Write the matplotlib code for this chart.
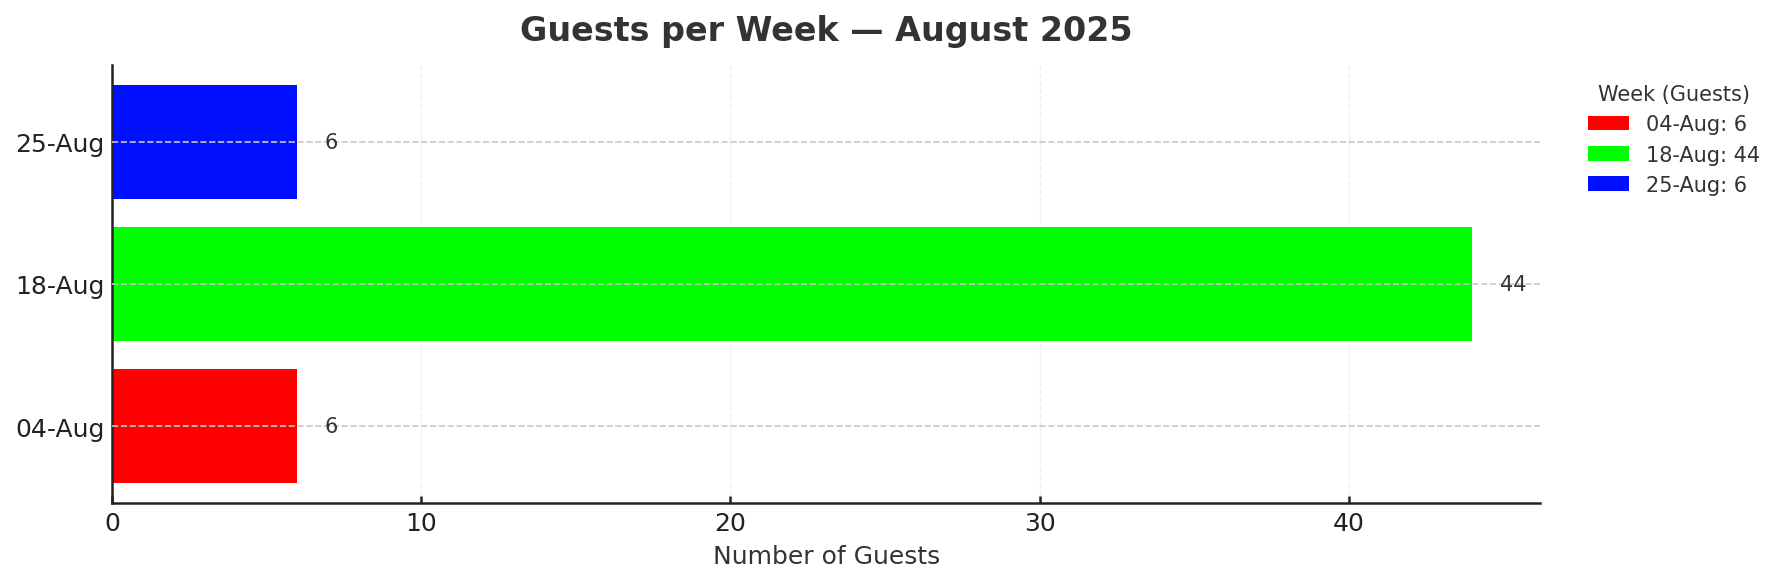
import matplotlib
matplotlib.use("Agg")
import matplotlib.pyplot as plt

# Datos semanales
weeks = ["04-Aug", "18-Aug", "25-Aug"]
guests = [6, 44, 6]
colors = ["#ff0000", "#00ff00", "#0010ff"]

plt.rcParams['font.family'] = ['DejaVu Sans']

fig, ax = plt.subplots(figsize=(11.9, 3.893), dpi=150)
fig.subplots_adjust(left=0.0627, right=0.863, top=0.887, bottom=0.137)

bars = ax.barh(weeks, guests, height=0.8, color=colors,
               label=[f"{w}: {g}" for w, g in zip(weeks, guests)], zorder=2)

# Líneas horizontales por semana (encima de las barras)
for i in range(len(weeks)):
    ax.axhline(i, color='#c8c8c8', linestyle='--', linewidth=0.8, zorder=3)

ax.bar_label(bars, labels=[str(g) for g in guests], padding=13,
             fontsize=10, color='#333333')

ax.grid(axis='x', linestyle='--', color='#eeeeee', linewidth=0.7)
ax.set_axisbelow(True)

ax.spines['top'].set_visible(False)
ax.spines['right'].set_visible(False)
for s in ['left', 'bottom']:
    ax.spines[s].set_color('#222222')
    ax.spines[s].set_linewidth(1.2)

ax.tick_params(axis='both', direction='in', length=3.5, width=1.2,
               labelsize=12, colors='#222222')
ax.tick_params(axis='x', pad=4)

ax.set_xlabel("Number of Guests", fontsize=12, color='#333333')
ax.set_title("Guests per Week — August 2025", fontsize=16,
             fontweight='bold', color='#333333', pad=12)

leg = ax.legend(title="Week (Guests)", loc='upper left',
                bbox_to_anchor=(1.02, 1), frameon=False, fontsize=10,
                title_fontsize=10)
for t in leg.get_texts():
    t.set_color('#333333')
leg.get_title().set_color('#333333')

fig.savefig("out.png", dpi=150)
